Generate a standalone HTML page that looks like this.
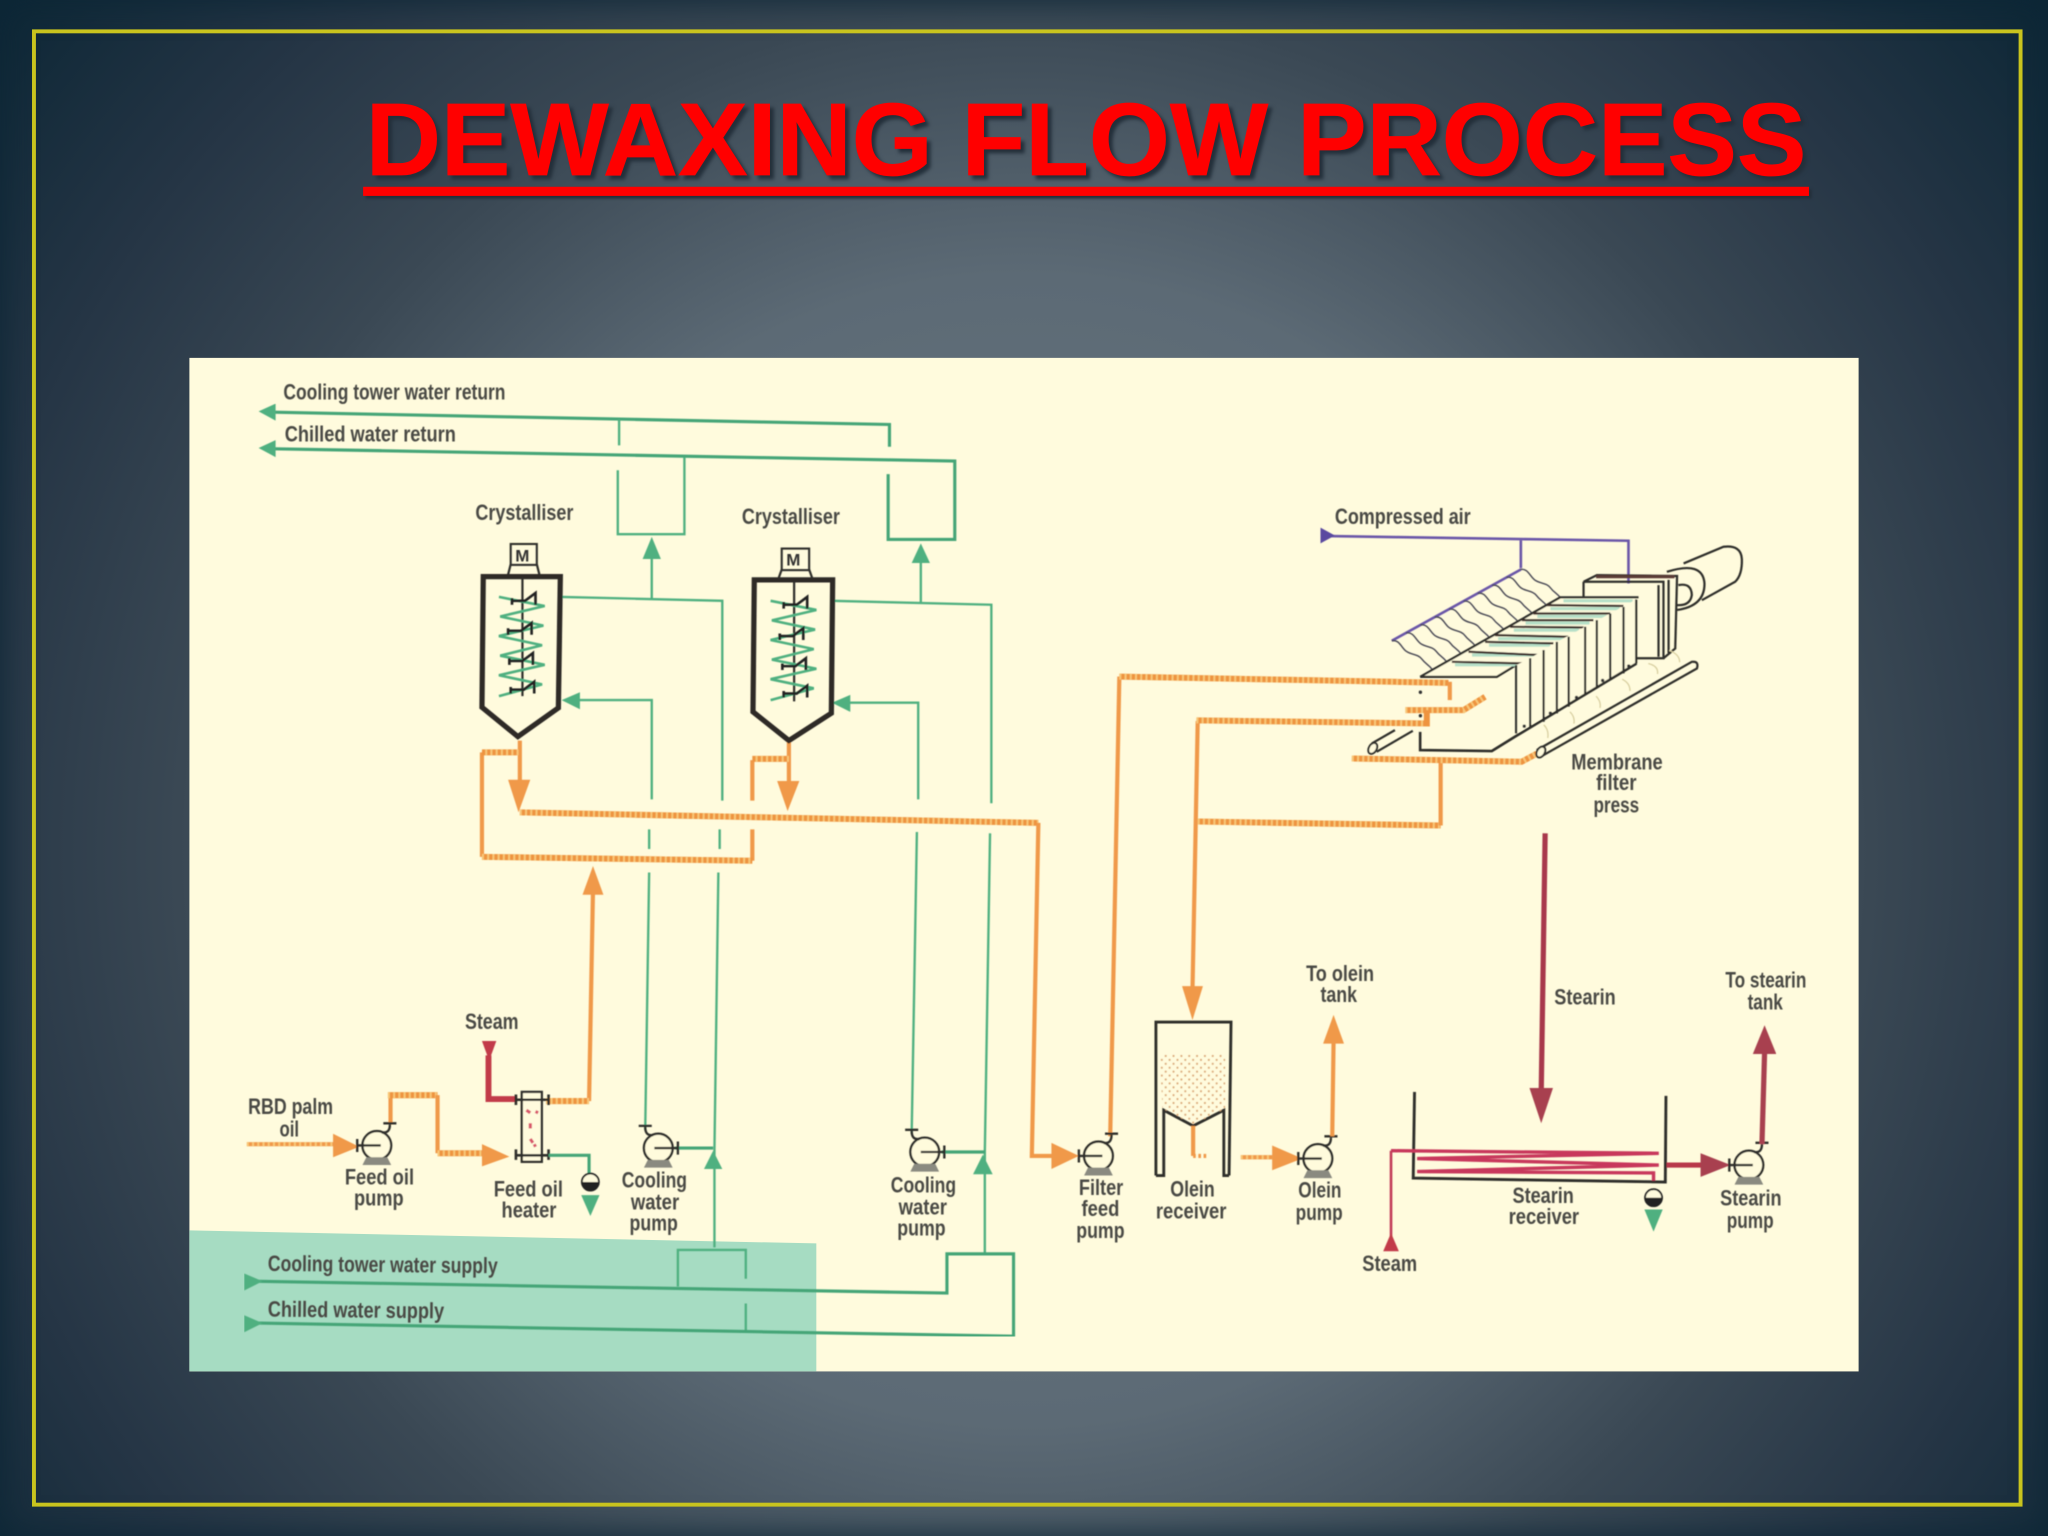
<!DOCTYPE html>
<html><head><meta charset="utf-8"><title>Dewaxing Flow Process</title>
<style>
html,body{margin:0;padding:0;width:2048px;height:1536px;overflow:hidden;background:#14263a}
#bg{position:absolute;left:0;top:0;width:2048px;height:1536px;background:radial-gradient(circle 1322px at 1024px 850px,#6d7b85 0%,#5c6a75 43.5%,#3a4854 64%,#253545 81.7%,#0d2736 100%);box-shadow:inset 0 0 34px #0d2736}
svg{position:absolute;left:0;top:0}
.t{font-family:"Liberation Sans",sans-serif;font-weight:bold;font-size:17px;fill:#4a4a44}
.g{fill:none;stroke:#4fb080;stroke-width:1.8}
.G{fill:none;stroke:#45a577;stroke-width:2.4}
.o{fill:none;stroke:#f0994a;stroke-width:3.2}
.h{fill:none;stroke:#ee9440;stroke-width:4.6}
.d{fill:none;stroke:#f8c878;stroke-width:4.6;stroke-dasharray:1.5 2.5}
.k{fill:none;stroke:#2e2e2a;stroke-width:1.7}
.K{fill:none;stroke:#2e2a28;stroke-width:4}
.fg{fill:#4fb080}.fo{fill:#f0994a}.fr{fill:#a8404f}
.r{fill:none;stroke:#c8385c;stroke-width:2.6}
.p{fill:none;stroke:#6a56a8;stroke-width:2}
</style></head><body>
<div id="bg"></div>
<svg width="2048" height="1536" viewBox="0 0 1568 1176" xmlns="http://www.w3.org/2000/svg">
<defs>
<filter id="b" x="0" y="0" width="100%" height="100%"><feGaussianBlur stdDeviation="0.5"/></filter>
<pattern id="dots" width="6" height="6" patternUnits="userSpaceOnUse"><circle cx="1.5" cy="1.5" r="0.8" fill="#d9a878"/><circle cx="4.5" cy="4.5" r="0.8" fill="#d9a878"/></pattern>
<g id="pump"><circle r="11" cx="0" cy="0" fill="#fffbdc" stroke="#2e2e2a" stroke-width="1.8"/>
<path d="M-8 9L-11 15H11L8 9Z" fill="#8a8a80"/><path d="M4 -10Q10 -9 10 -16M5 -17H15" fill="none" stroke="#2e2e2a" stroke-width="1.8"/>
<path d="M-15 0H3M-15 -5V5" fill="none" stroke="#2e2e2a" stroke-width="1.8"/></g>
<path id="wave" d="M0 0c6 -1 7 5 11 8s9 2 12 6s5 4 8 8" fill="none" stroke="#4a4a55" stroke-width="1.1"/>
<g id="zig"><path d="M0 0L35 7L1 15L34 22L0 30L33 37L1 45L35 52L0 60L33 67L0 76" fill="none" stroke="#4fb080" stroke-width="2"/></g>
<path id="pad" d="M-10 4V-1M-10 1H0L8 -5V4" fill="none" stroke="#222" stroke-width="2"/>
</defs>

<rect x="26" y="24" width="1521" height="1128" fill="none" stroke="#c9c41e" stroke-width="3"/>

<text x="280" y="134" textLength="1103" lengthAdjust="spacingAndGlyphs" font-family="Liberation Sans, sans-serif" font-weight="bold" font-size="79" fill="#ff0000" stroke="#ff0000" stroke-width="0.6" style="filter:drop-shadow(3px 3px 1.5px #232f3a)">DEWAXING FLOW PROCESS</text>
<rect x="278" y="143" width="1107" height="7" fill="#ff0000" style="filter:drop-shadow(2px 2px 1px #232f3a)"/>

<rect x="145" y="274" width="1278" height="776" fill="#fffbdd"/>
<path d="M145 942L625 952V1050H145Z" fill="#a6dcc2"/>

<g filter="url(#b)">
<!-- top returns -->
<path class="G" d="M205 315.500L681 325V342"/>
<path class="G" d="M205 343.500L731 353V413H680V363"/>
<path class="g" d="M474 321V341M524 350V409H473V360"/>
<path class="fg" d="M198 315L211 309V322ZM198 343L211 337V350Z"/>
<!-- crystalliser 1 water -->
<path class="g" d="M499 426V458M430 457L553 460V613M551 635V650M550 668L547 880V955"/>
<path class="g" d="M443 536H499V612M497 635V650M497 668L494 865"/>
<path class="fg" d="M499 411L506 428H492ZM430 536L444 530V543Z"/>
<!-- crystalliser 2 water -->
<path class="g" d="M705 430V461M637 460L759 463V615M758 638L754 882V960"/>
<path class="g" d="M650 538H703V612M702 637L698 868"/>
<path class="fg" d="M705 416L712 431H698ZM637 538L651 532V545Z"/>
<!-- pump discharge -->
<path class="G" d="M517 879H546M721 882H754"/>
<path class="fg" d="M546 881L553 895H539ZM752.500 884L760 899H745Z"/>
<!-- bottom supplies -->
<path class="g" d="M519 985V957H571V979M571 998V1020"/>
<path class="G" d="M198 981L725 990V960H776V1023L198 1013"/>
<path class="fg" d="M187 975L201 981L187 988ZM187 1007L201 1013L187 1020Z"/>

<!-- orange lines -->
<path class="h" d="M398 622L795 630"/><path class="d" d="M398 622L795 630"/>
<path class="o" d="M795 630L790 885H806"/>
<path class="o" d="M398 567V600M604 568V600"/>
<path class="fo" d="M389 597H406L397 622ZM595 598H612L603 621Z"/>
<path class="o" d="M369 576V656M576 582V613M576 635V659"/>
<path class="h" d="M397 576H369M369 656L576 659M604 581H576"/><path class="d" d="M397 576H369M369 656L576 659M604 581H576"/>
<path class="o" d="M454 682L451 843"/><path class="h" d="M451 843H418"/><path class="d" d="M451 843H418"/>
<path class="fo" d="M454 663L462 685H446Z"/>
<path class="fo" d="M826 885L805 875V895Z"/>
<!-- to press -->
<path class="o" d="M850 870L857 518"/>
<path class="h" d="M857 518L1109 522.800"/><path class="d" d="M857 518L1109 522.800"/>
<path class="o" d="M1110 522V536"/>
<path class="h" d="M1076 543.700H1120.500L1137 533.500"/><path class="d" d="M1076 543.700H1120.500L1137 533.500"/>
<path class="o" d="M917 552L913 758"/>
<path class="h" d="M916 551.500L1092.400 553.900V543.700"/><path class="d" d="M916 551.500L1092 553.900"/>
<path class="fo" d="M905 755H921L913 781Z"/>
<path class="h" d="M917 629L1103 632"/><path class="d" d="M917 629L1103 632"/>
<path class="o" d="M1103 632V584"/>
<path class="h" d="M1035 580.700L1165 583.200L1176.600 577"/><path class="d" d="M1035 580.700L1165 583.200L1176.600 577"/>

<!-- crystalliser vessels -->
<path class="K" d="M370 441.500H429L427.500 542L396.500 564L369 541.500Z"/>
<path class="K" d="M577.500 444H637.500L636.500 546L604 567L576.500 545Z"/>
<rect x="391" y="416.500" width="20" height="16" fill="none" stroke="#2e2e2a" stroke-width="1.6"/>
<rect x="598.500" y="420" width="21" height="16.500" fill="none" stroke="#2e2e2a" stroke-width="1.6"/>
<path class="k" d="M391 432L389 440M411 432L413 440M598.500 436L596 443M619.500 436L622 443M400 442V533M608 445V537"/>
<text x="394.500" y="430" font-family="Liberation Sans,sans-serif" font-weight="bold" font-size="13" fill="#333">M</text>
<text x="602" y="433" font-family="Liberation Sans,sans-serif" font-weight="bold" font-size="13" fill="#333">M</text>
<use href="#zig" x="382" y="457"/><use href="#zig" x="590" y="460"/>
<use href="#pad" x="402" y="459"/><use href="#pad" x="399" y="482"/><use href="#pad" x="400" y="505"/><use href="#pad" x="401" y="527"/>
<use href="#pad" x="610" y="462"/><use href="#pad" x="607" y="486"/><use href="#pad" x="609" y="509"/><use href="#pad" x="610" y="530"/>

<!-- membrane press -->
<path class="p" d="M1018 410.400L1246.800 414V446.700M1164.400 412.200V435M1065.600 490.600L1164.400 436"/>
<path fill="#5a4aa0" d="M1011 404L1022 410L1011 416Z"/>
<use href="#wave" x="1065.600" y="490.600"/><use href="#wave" x="1076.500" y="484.600"/><use href="#wave" x="1087.500" y="478.500"/><use href="#wave" x="1098.500" y="472.500"/><use href="#wave" x="1109.500" y="466.400"/><use href="#wave" x="1120.500" y="460.300"/><use href="#wave" x="1131.400" y="454.200"/><use href="#wave" x="1142.400" y="448.100"/><use href="#wave" x="1153.400" y="442"/><use href="#wave" x="1164" y="436"/>
<!-- end block -->
<path class="k" d="M1212.400 445.400H1273.600V504H1253.200M1212.400 445.400V457M1212.400 445.400L1222.600 440.300L1284 441L1282.600 496.500L1273.600 504M1269.800 448V502.800M1277.500 444V500"/>
<path d="M1222 441.500H1282" fill="none" stroke="#5a3a34" stroke-width="2.4"/>
<!-- top plates -->
<path d="M1087.300 518.200H1146L1160.800 509.200L1254.500 458.200H1194.500Z" fill="#fffbdd"/>
<path class="k" d="M1087.300 518.200H1146L1160.800 509.200M1087.300 518.200L1194.500 457.400H1254.500"/>
<path d="M1114 509H1166M1127 501.500H1176M1140 494H1187M1147 489H1198M1159 482.500H1209M1168 477H1217M1177 472H1230M1187 466H1240M1197 460H1250" fill="none" stroke="#b6e0c8" stroke-width="2.4"/>
<path d="M1111.600 506.700L1169 508M1124.300 499L1179.200 501.600M1137 491.400L1189.400 492.600M1144.700 486.300L1201 487.500M1156.200 479.900L1212.400 480.400M1165.200 474.800H1220M1174 469.700H1232.800M1184.300 463.300L1243 464" fill="none" stroke="#3a2a28" stroke-width="1.7"/>
<!-- vertical plates -->
<path d="M1160.800 509.200L1171.500 504L1192 491.400L1213.600 479.900L1232.800 469.700L1252.700 458.900V508L1160.800 561.500Z" fill="#fffbdd"/>
<path class="k" d="M1160.800 509.200V561.500M1171.500 504V556.400M1181.800 497.700V552.600M1192 491.400V546.200M1201 487.500V541M1213.600 479.900V532.200M1222.600 474.800V527M1232.800 469.700V520.700M1243 464.600V515.600M1252.700 458.900V508"/>
<path class="k" style="stroke-width:2" d="M1087.300 560.300V574.300L1142.200 575L1160 564L1253 508"/>
<circle cx="1167" cy="556" r="1.300" fill="#333"/><circle cx="1187" cy="546" r="1.300" fill="#333"/><circle cx="1207" cy="534" r="1.300" fill="#333"/><circle cx="1227" cy="521" r="1.300" fill="#333"/><circle cx="1247" cy="510" r="1.300" fill="#333"/>
<circle cx="1087.500" cy="530" r="1.300" fill="#333"/><circle cx="1087.500" cy="548" r="1.300" fill="#333"/>
<path d="M1182 555q4 4 3 10M1202 545q4 4 3 9M1222 533q4 4 3 9M1242 520q6 3 6 9M1262 508q8 2 7 8M1278 498q8 3 8 9" fill="none" stroke="#d8cfa0" stroke-width="1"/>
<!-- cylinder -->
<path class="k" d="M1276.200 437.800Q1304 429 1305 447Q1305 464 1284 467"/>
<path class="k" d="M1285 448Q1295 446 1295.300 455.600Q1294 464 1283.800 463.300"/>
<path class="k" d="M1289 431.400L1319.600 418.600Q1333 417 1333.600 428Q1334 440 1328.500 445.400L1303 459.500"/>
<!-- rails -->
<path class="k" d="M1176.600 574.300L1295.300 506.700Q1301 506 1299.200 511.800L1181.800 578.100"/>
<ellipse cx="1179.700" cy="575.800" rx="3" ry="4.500" transform="rotate(30 1179.700 575.800)" fill="#fffbdd" stroke="#2e2e2a" stroke-width="1.5"/>
<path class="k" d="M1050.300 569.200L1068 559M1054 575.600L1081.700 559.500"/>
<ellipse cx="1051" cy="573" rx="3" ry="4.500" transform="rotate(30 1051 573)" fill="#fffbdd" stroke="#2e2e2a" stroke-width="1.5"/>

<!-- feed section -->
<path class="o" d="M189 876H256"/><path class="d" style="stroke-width:3.2" d="M189 876H256"/>
<path class="fo" d="M255 868V886L275 878Z"/>
<path class="o" d="M299 861V838.500"/><path class="h" d="M297 838.500H335"/><path class="d" d="M297 838.500H335"/>
<path class="o" d="M335 838.500V883"/><path class="h" d="M335 883H372"/><path class="d" d="M335 883H372"/>
<path class="fo" d="M369 876V893L390 885.500Z"/>
<use href="#pump" x="288.500" y="877"/>
<path fill="none" stroke="#c23a48" stroke-width="4.500" d="M374 808V841.500H396"/>
<path fill="#c23a48" d="M369 797H380L374.500 812Z"/>
<rect x="399.500" y="836" width="15.300" height="53.500" fill="#fffbdd" stroke="#2e2e2a" stroke-width="1.8"/>
<path d="M403 850l3 2M410 851l2 1M406 860v4M406 872l2 3M409 876l1 2" stroke="#d8556a" stroke-width="2.400" fill="none"/>
<path class="k" style="stroke-width:2" d="M395 842H420M395 884.500H420M395 838V846M420 838V846M395 880V888M420 880V888"/>
<path class="G" d="M420 884.500H451V900"/>
<circle cx="452" cy="905" r="6.500" fill="#fffbdd" stroke="#222" stroke-width="1.400"/>
<path d="M445.500 905A6.500 6.500 0 0 0 458.500 905Z" fill="#222"/>
<path class="fg" d="M445 915H459L452 931Z"/>
<use href="#pump" transform="translate(504 879) scale(-1 1)"/>
<use href="#pump" transform="translate(708 882) scale(-1 1)"/>

<!-- filter feed pump / olein -->
<use href="#pump" x="841" y="885"/>
<path class="k" style="stroke-width:2.200" d="M885 900V782.500H942.500L941 900M885 900H891V850L913.500 862L937 850V900H941"/>
<path d="M888 807H938V849L913.500 861L890 849Z" fill="url(#dots)"/>
<path class="o" d="M913.500 862V885"/><path class="o" style="stroke-dasharray:2 2" d="M913.500 885H925"/>
<path class="o" d="M950 886H975"/><path class="d" style="stroke-width:3.2" d="M950 886H975"/>
<path class="fo" d="M974 877V896L997 887Z"/>
<use href="#pump" x="1009" y="887"/>
<path class="o" d="M1020 870L1021 798"/><path class="fo" d="M1013 799H1029L1021 777Z"/>

<!-- stearin -->
<path fill="none" stroke="#a8384c" stroke-width="4" d="M1183 638L1180 836"/>
<path class="fr" d="M1171 833H1189L1180 860Z"/>
<path class="k" style="stroke-width:2.200" d="M1083 836L1082 902L1275 905L1275.500 839"/>
<path class="r" d="M1065 881L1270 883L1085 887L1270 892L1085 897L1266 898V904"/>
<path fill="none" stroke="#c23a58" stroke-width="2" d="M1065 881V948"/>
<path fill="#c23a48" d="M1065 944L1071 958H1059Z"/>
<path fill="none" stroke="#b83848" stroke-width="4" d="M1276 892H1304"/>
<path class="fr" d="M1302 883V901L1325 892Z"/>
<circle cx="1266" cy="917" r="6.500" fill="#fffbdd" stroke="#222" stroke-width="1.400"/>
<path d="M1259.500 917A6.500 6.500 0 0 0 1272.500 917Z" fill="#222"/>
<path class="fg" d="M1259 926H1273L1266 943Z"/>
<use href="#pump" x="1339" y="892"/>
<path fill="none" stroke="#a8404f" stroke-width="4" d="M1349 876L1351 806"/>
<path class="fr" d="M1342 807H1360L1351 785Z"/>
</g>

<g filter="url(#b)">
<text class="t" x="217" y="306" textLength="170" lengthAdjust="spacingAndGlyphs">Cooling tower water return</text>
<text class="t" x="218" y="338" textLength="131" lengthAdjust="spacingAndGlyphs">Chilled water return</text>
<text class="t" x="364" y="398" textLength="75" lengthAdjust="spacingAndGlyphs">Crystalliser</text>
<text class="t" x="568" y="401" textLength="75" lengthAdjust="spacingAndGlyphs">Crystalliser</text>
<text class="t" x="1022" y="401" textLength="104" lengthAdjust="spacingAndGlyphs">Compressed air</text>
<text class="t" x="1203" y="589" textLength="70" lengthAdjust="spacingAndGlyphs">Membrane</text>
<text class="t" x="1222" y="605" textLength="31" lengthAdjust="spacingAndGlyphs">filter</text>
<text class="t" x="1220" y="622" textLength="35" lengthAdjust="spacingAndGlyphs">press</text>
<text class="t" x="356" y="788" textLength="41" lengthAdjust="spacingAndGlyphs">Steam</text>
<text class="t" x="190" y="853" textLength="65" lengthAdjust="spacingAndGlyphs">RBD palm</text>
<text class="t" x="214" y="870" textLength="15" lengthAdjust="spacingAndGlyphs">oil</text>
<text class="t" x="264" y="907" textLength="53" lengthAdjust="spacingAndGlyphs">Feed oil</text>
<text class="t" x="271" y="923" textLength="38" lengthAdjust="spacingAndGlyphs">pump</text>
<text class="t" x="378" y="916" textLength="53" lengthAdjust="spacingAndGlyphs">Feed oil</text>
<text class="t" x="384" y="932" textLength="42" lengthAdjust="spacingAndGlyphs">heater</text>
<text class="t" x="476" y="909" textLength="50" lengthAdjust="spacingAndGlyphs">Cooling</text>
<text class="t" x="483" y="926" textLength="37" lengthAdjust="spacingAndGlyphs">water</text>
<text class="t" x="482" y="942" textLength="37" lengthAdjust="spacingAndGlyphs">pump</text>
<text class="t" x="682" y="913" textLength="50" lengthAdjust="spacingAndGlyphs">Cooling</text>
<text class="t" x="688" y="930" textLength="37" lengthAdjust="spacingAndGlyphs">water</text>
<text class="t" x="687" y="946" textLength="37" lengthAdjust="spacingAndGlyphs">pump</text>
<text class="t" x="826" y="915" textLength="34" lengthAdjust="spacingAndGlyphs">Filter</text>
<text class="t" x="828" y="931" textLength="29" lengthAdjust="spacingAndGlyphs">feed</text>
<text class="t" x="824" y="948" textLength="37" lengthAdjust="spacingAndGlyphs">pump</text>
<text class="t" x="896" y="916" textLength="34" lengthAdjust="spacingAndGlyphs">Olein</text>
<text class="t" x="885" y="933" textLength="54" lengthAdjust="spacingAndGlyphs">receiver</text>
<text class="t" x="994" y="917" textLength="33" lengthAdjust="spacingAndGlyphs">Olein</text>
<text class="t" x="992" y="934" textLength="36" lengthAdjust="spacingAndGlyphs">pump</text>
<text class="t" x="1000" y="751" textLength="52" lengthAdjust="spacingAndGlyphs">To olein</text>
<text class="t" x="1011" y="767" textLength="28" lengthAdjust="spacingAndGlyphs">tank</text>
<text class="t" x="1321" y="756" textLength="62" lengthAdjust="spacingAndGlyphs">To stearin</text>
<text class="t" x="1338" y="773" textLength="27" lengthAdjust="spacingAndGlyphs">tank</text>
<text class="t" x="1190" y="769" textLength="47" lengthAdjust="spacingAndGlyphs">Stearin</text>
<text class="t" x="1158" y="921" textLength="47" lengthAdjust="spacingAndGlyphs">Stearin</text>
<text class="t" x="1155" y="937" textLength="54" lengthAdjust="spacingAndGlyphs">receiver</text>
<text class="t" x="1317" y="923" textLength="47" lengthAdjust="spacingAndGlyphs">Stearin</text>
<text class="t" x="1322" y="940" textLength="36" lengthAdjust="spacingAndGlyphs">pump</text>
<text class="t" x="1043" y="973" textLength="42" lengthAdjust="spacingAndGlyphs">Steam</text>
<text class="t" x="205" y="973" textLength="176" lengthAdjust="spacingAndGlyphs" transform="rotate(0.6 205 973)">Cooling tower water supply</text>
<text class="t" x="205" y="1008" textLength="135" lengthAdjust="spacingAndGlyphs" transform="rotate(0.6 205 1008)">Chilled water supply</text>
</g>
</svg>
</body></html>
